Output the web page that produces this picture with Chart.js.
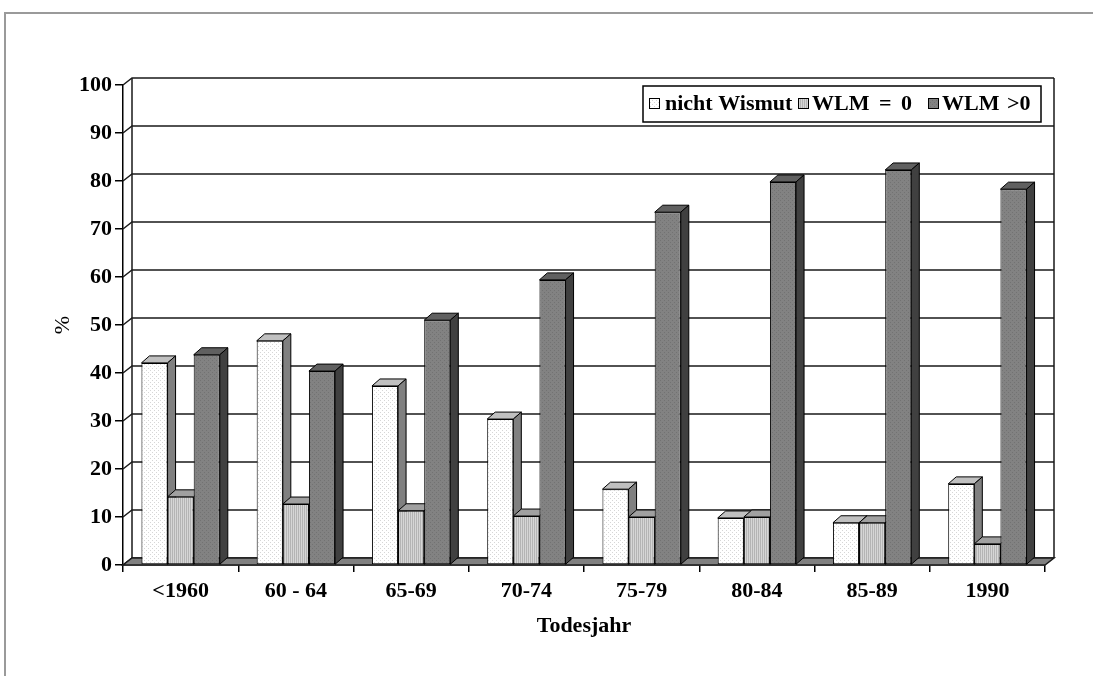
<!DOCTYPE html>
<html>
<head>
<meta charset="utf-8">
<script src="https://cdn.jsdelivr.net/npm/chart.js@4/dist/chart.umd.min.js"></script>
<style>
  body { margin: 0; background: #fff; }
  canvas { display: block; }
</style>
</head>
<body>
<canvas id="graficoTodesjahr" width="1093" height="676"></canvas>
<script>
// Werte (%)
const kategorien = ['<1960', '60 - 64', '65-69', '70-74', '75-79', '80-84', '85-89', '1990'];
const serienNamen = ['nicht Wismut', 'WLM = 0', 'WLM >0'];
const nichtWismut = [42.1, 46.7, 37.3, 30.4, 15.8, 9.8, 8.8, 16.9];
const wlmNull = [14.2, 12.7, 11.3, 10.2, 10.0, 10.0, 8.8, 4.4];
const wlmPositiv = [43.8, 40.4, 51.0, 59.4, 73.5, 79.8, 82.3, 78.3];

const schrift = 'Liberation Serif';
const DX = 9, DY = 7;     // Tiefe der Wand
const BX = 8, BY = 7;     // Tiefe der Balken

function muster(grund, punkt, art) {
    const c = document.createElement('canvas');
    c.width = 4; c.height = 4;
    const g = c.getContext('2d');
    g.fillStyle = grund;
    g.fillRect(0, 0, 4, 4);
    g.fillStyle = punkt;
    if (art === 'streifen') {
        g.fillRect(0, 0, 1, 4);
        g.fillRect(2, 0, 1, 4);
    } else {
        g.fillRect(0, 0, 1, 1);
        g.fillRect(2, 2, 1, 1);
    }
    return g.createPattern(c, 'repeat');
}

const fuellung = [
    muster('#ffffff', '#d6d6d6', 'punkte'),
    muster('#d6d6d6', '#b4b4b4', 'streifen'),
    muster('#828282', '#727272', 'punkte')
];
const deckel = ['#c0c0c0', '#a0a0a0', '#606060'];
const seite = ['#808080', '#808080', '#404040'];

const raum3d = {
    id: 'raum3d',
    beforeDatasetsDraw(chart) {
        const ctx = chart.ctx;
        const a = chart.chartArea;
        const y = chart.scales.y;
        ctx.save();
        ctx.strokeStyle = '#1a1a1a';
        ctx.lineWidth = 1.5;
        // Rueckwand mit Gitterlinien
        y.ticks.forEach(t => {
            const py = y.getPixelForValue(t.value);
            ctx.beginPath();
            ctx.moveTo(a.left, py);
            ctx.lineTo(a.left + DX, py - DY);
            ctx.lineTo(a.right + DX, py - DY);
            ctx.stroke();
        });
        ctx.beginPath();
        ctx.moveTo(a.left + DX, a.top - DY);
        ctx.lineTo(a.left + DX, a.bottom - DY);
        ctx.moveTo(a.right + DX, a.top - DY);
        ctx.lineTo(a.right + DX, a.bottom - DY);
        ctx.stroke();
        // Boden
        ctx.beginPath();
        ctx.moveTo(a.left, a.bottom);
        ctx.lineTo(a.right, a.bottom);
        ctx.lineTo(a.right + DX, a.bottom - DY);
        ctx.lineTo(a.left + DX, a.bottom - DY);
        ctx.closePath();
        ctx.fillStyle = '#808080';
        ctx.fill();
        ctx.stroke();
        // Deckel und Seiten der Balken
        ctx.lineWidth = 1;
        ctx.strokeStyle = '#000';
        chart.data.datasets.forEach((ds, i) => {
            chart.getDatasetMeta(i).data.forEach(bar => {
                const p = bar.getProps(['x', 'y', 'base', 'width'], true);
                const l = p.x - p.width / 2, r = p.x + p.width / 2;
                ctx.beginPath();
                ctx.moveTo(l, p.y);
                ctx.lineTo(l + BX, p.y - BY);
                ctx.lineTo(r + BX, p.y - BY);
                ctx.lineTo(r, p.y);
                ctx.closePath();
                ctx.fillStyle = deckel[i];
                ctx.fill();
                ctx.stroke();
                ctx.beginPath();
                ctx.moveTo(r, p.y);
                ctx.lineTo(r + BX, p.y - BY);
                ctx.lineTo(r + BX, p.base - BY);
                ctx.lineTo(r, p.base);
                ctx.closePath();
                ctx.fillStyle = seite[i];
                ctx.fill();
                ctx.stroke();
            });
        });
        ctx.restore();
    },
    afterDraw(chart) {
        const ctx = chart.ctx;
        ctx.save();
        // Rahmen
        ctx.strokeStyle = '#9a9a9a';
        ctx.lineWidth = 2;
        ctx.beginPath();
        ctx.moveTo(5, 676);
        ctx.lineTo(5, 13);
        ctx.lineTo(1093, 13);
        ctx.stroke();
        // Legende
        ctx.fillStyle = '#fff';
        ctx.fillRect(643, 86, 398, 36);
        ctx.strokeStyle = '#000';
        ctx.lineWidth = 1.5;
        ctx.strokeRect(643, 86, 398, 36);
        const kx = [649, 798, 928];
        const tx = [665, 812, 942];
        const abstand = ['0px', '4px', '2px'];
        ctx.font = 'bold 22px "' + schrift + '"';
        ctx.textBaseline = 'middle';
        chart.data.datasets.forEach((ds, i) => {
            ctx.fillStyle = fuellung[i];
            ctx.fillRect(kx[i], 98, 10, 10);
            ctx.lineWidth = 1;
            ctx.strokeRect(kx[i] + 0.5, 98.5, 10, 10);
            ctx.fillStyle = '#000';
            ctx.wordSpacing = abstand[i];
            ctx.fillText(ds.label, tx[i], 104);
        });
        ctx.restore();
    }
};

const ctx = document.getElementById('graficoTodesjahr').getContext('2d');
new Chart(ctx, {
    type: 'bar',
    data: {
        labels: kategorien,
        datasets: [nichtWismut, wlmNull, wlmPositiv].map((werte, i) => ({
            label: serienNamen[i],
            data: werte,
            backgroundColor: fuellung[i],
            borderColor: '#000',
            borderWidth: 1,
            borderSkipped: false,
            categoryPercentage: 0.68,
            barPercentage: 1.0
        }))
    },
    options: {
        responsive: false,
        animation: false,
        layout: { padding: { left: 0, top: 85, right: 48, bottom: 0 } },
        plugins: {
            legend: { display: false },
            tooltip: { enabled: false }
        },
        scales: {
            x: {
                afterFit: s => { s.height = 111; },
                grid: { offset: true, drawOnChartArea: false, tickLength: 7, color: '#000', lineWidth: 1.5 },
                border: { color: '#000', width: 1.5 },
                ticks: { color: '#000', padding: 6, font: { family: schrift, size: 22, weight: 'bold' } },
                title: {
                    display: true,
                    text: 'Todesjahr',
                    color: '#000',
                    padding: { top: 0, bottom: 36 },
                    font: { family: schrift, size: 22, weight: 'bold' }
                }
            },
            y: {
                min: 0,
                max: 100,
                afterFit: s => { s.width = 123; },
                ticks: { stepSize: 10, color: '#000', padding: 3, font: { family: schrift, size: 22, weight: 'bold' } },
                grid: { drawOnChartArea: false, tickLength: 8, color: '#000', lineWidth: 1.5 },
                border: { color: '#000', width: 1.5 },
                title: {
                    display: true,
                    text: '%',
                    color: '#000',
                    padding: { top: 50, bottom: 0 },
                    font: { family: schrift, size: 22 }
                }
            }
        }
    },
    plugins: [raum3d]
});
</script>
</body>
</html>
